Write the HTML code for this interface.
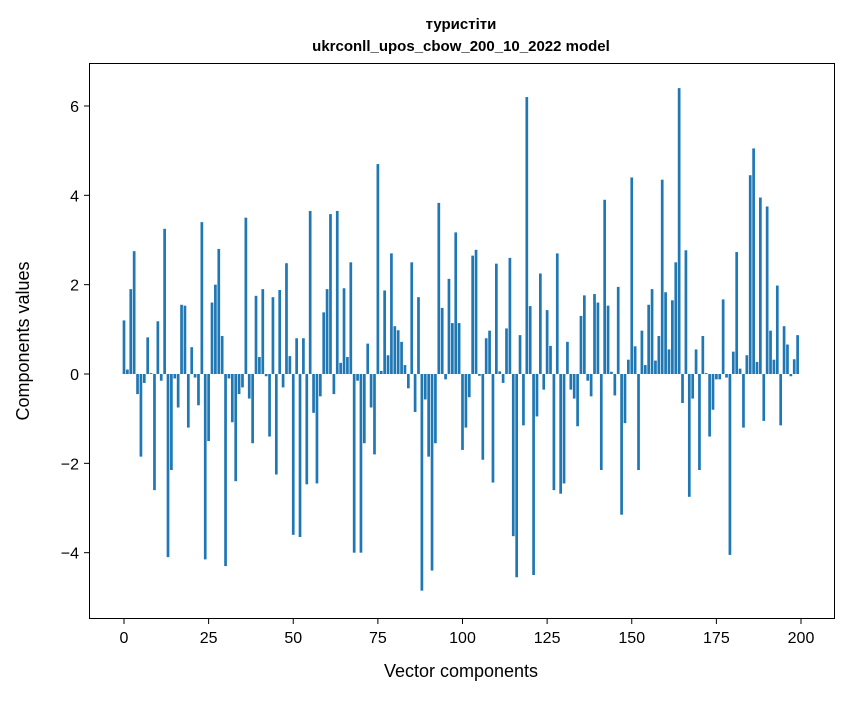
<!DOCTYPE html>
<html><head><meta charset="utf-8"><style>
body{margin:0;background:#fff;}
svg text{font-family:"Liberation Sans","DejaVu Sans",sans-serif;fill:#000;}
</style></head><body>
<svg id="chart" width="847" height="696" xmlns="http://www.w3.org/2000/svg">
<rect x="0" y="0" width="847" height="696" fill="#fff"/>
<text x="461" y="29" text-anchor="middle" font-size="15" font-weight="bold">туристіти</text>
<text x="461" y="51" text-anchor="middle" font-size="15" font-weight="bold">ukrconll_upos_cbow_200_10_2022 model</text>
<g id="bars"></g>
<g id="xticks"></g>
<g id="yticks"></g>
<rect x="89.5" y="63.5" width="745" height="555" fill="none" stroke="#000" stroke-width="1"/>
<text x="461" y="677" text-anchor="middle" font-size="18">Vector components</text>
<text transform="translate(29,341) rotate(-90)" text-anchor="middle" font-size="18">Components values</text>
</svg>
<script>
const values = [1.2,0.1,1.9,2.75,-0.45,-1.85,-0.2,0.82,0.02,-2.6,1.18,-0.15,3.25,-4.1,-2.15,-0.1,-0.75,1.55,1.53,-1.2,
0.6,-0.08,-0.7,3.4,-4.15,-1.5,1.6,2.0,2.8,0.85,-4.3,-0.1,-1.08,-2.4,-0.45,-0.3,3.5,-0.55,-1.55,1.75,
0.38,1.9,-0.05,-1.4,1.72,-2.25,1.88,-0.3,2.48,0.4,-3.6,0.8,-3.65,0.8,-2.47,3.65,-0.87,-2.45,-0.5,1.38,
1.9,3.58,-0.45,3.65,0.25,1.92,0.38,2.5,-4.0,-0.15,-4.0,-1.55,0.68,-0.75,-1.8,4.7,0.07,1.87,0.42,2.7,
1.07,0.98,0.72,0.2,-0.32,2.5,-0.85,1.72,-4.85,-0.57,-1.85,-4.4,-1.55,3.83,1.48,-0.12,2.13,1.14,3.17,1.14,
-1.7,-1.2,-0.52,2.65,2.78,-0.04,-1.92,0.8,0.97,-2.43,2.47,0.06,-0.2,1.02,2.6,-3.63,-4.55,0.87,-1.15,6.2,
1.52,-4.5,-0.95,2.25,-0.35,1.43,0.63,-2.6,2.7,-2.68,-2.45,0.72,-0.35,-0.55,-1.17,1.3,1.76,-0.15,-0.5,1.79,
1.6,-2.15,3.9,1.53,0.05,-0.48,1.95,-3.15,-1.1,0.32,4.4,0.62,-2.15,0.97,0.2,1.55,1.9,0.3,0.85,4.35,1.83,0.55,
1.65,2.5,6.4,-0.65,2.77,-2.75,-0.55,0.55,-2.15,0.85,0.02,-1.4,-0.8,-0.12,-0.12,1.67,-0.08,-4.05,0.5,
2.73,0.12,-1.2,0.42,4.45,5.05,0.27,3.95,-1.05,3.75,0.97,0.32,1.98,-1.15,1.07,0.66,-0.05,0.33,0.87];
const xTicks = [0,25,50,75,100,125,150,175,200];
const yTicks = [-4,-2,0,2,4,6];
const NS="http://www.w3.org/2000/svg";
const xs = v => 124 + v*3.385;
const ys = v => 374 - v*44.67;
const bars = document.getElementById('bars');
values.forEach((v,i)=>{
  const r=document.createElementNS(NS,'rect');
  const y0=Math.min(ys(0),ys(v)), h=Math.abs(ys(v)-ys(0));
  r.setAttribute('x',xs(i)-1.35);r.setAttribute('y',y0);
  r.setAttribute('width',2.7);r.setAttribute('height',Math.max(h,0.3));
  r.setAttribute('fill','#1f77b4');
  
  
  bars.appendChild(r);
});
const xg=document.getElementById('xticks');
xTicks.forEach(t=>{
  const l=document.createElementNS(NS,'line');
  l.setAttribute('x1',xs(t));l.setAttribute('x2',xs(t));l.setAttribute('y1',619);l.setAttribute('y2',624);l.setAttribute('stroke','#000');
  
  
  xg.appendChild(l);
  const tx=document.createElementNS(NS,'text');
  tx.setAttribute('x',xs(t));tx.setAttribute('y',643);tx.setAttribute('text-anchor','middle');tx.setAttribute('font-size','16');
  tx.textContent=t;
  
  
  xg.appendChild(tx);
});
const yg=document.getElementById('yticks');
yTicks.forEach(t=>{
  const l=document.createElementNS(NS,'line');
  l.setAttribute('x1',84);l.setAttribute('x2',89);l.setAttribute('y1',ys(t));l.setAttribute('y2',ys(t));l.setAttribute('stroke','#000');
  
  
  yg.appendChild(l);
  const tx=document.createElementNS(NS,'text');
  tx.setAttribute('x',79);tx.setAttribute('y',ys(t)+6);tx.setAttribute('text-anchor','end');tx.setAttribute('font-size','16');
  tx.textContent=(t<0?'\u2212'+(-t):t);
  
  
  yg.appendChild(tx);
});
</script>
</body></html>
